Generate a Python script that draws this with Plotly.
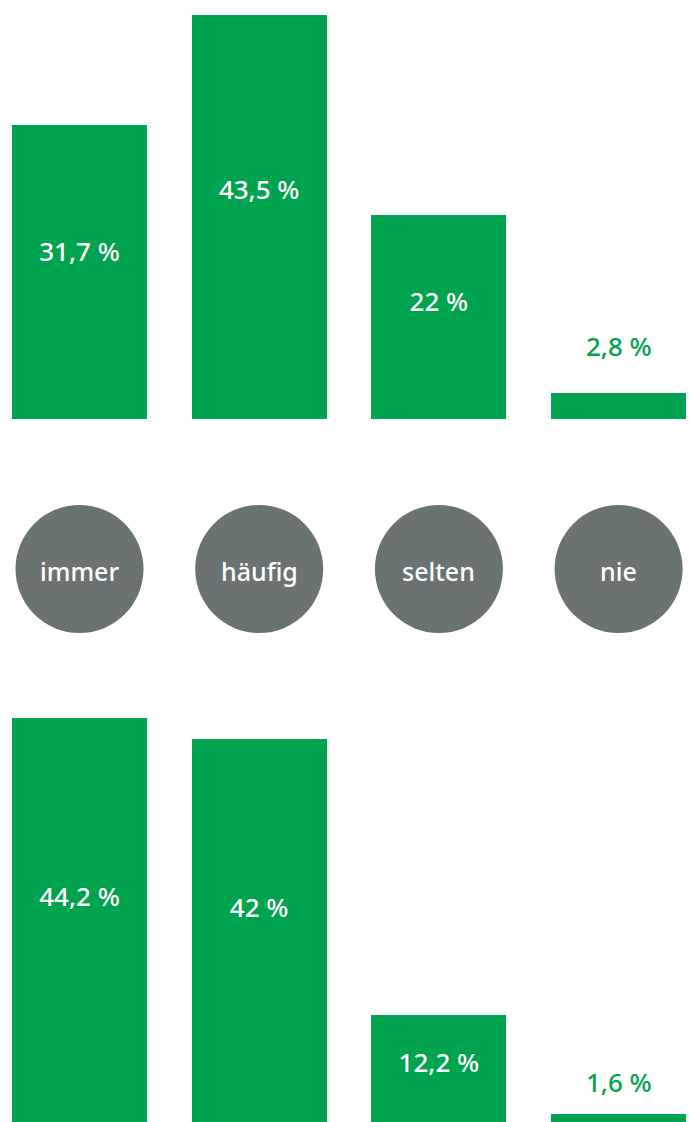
import plotly.graph_objects as go

categories = ["immer", "häufig", "selten", "nie"]
values_top = [31.7, 43.5, 22.0, 2.8]
values_bottom = [44.2, 42.0, 12.2, 1.6]
labels_top = ["31,7 %", "43,5 %", "22 %", "2,8 %"]
labels_bottom = ["44,2 %", "42 %", "12,2 %", "1,6 %"]

GREEN = "#00A34E"
GRAY = "#6A7372"
FONT = "Noto Sans"
WEIGHT = 500
W, H = 689, 1122
SMALL = 5  # values below this get their label above the bar

fig = go.Figure()

def add_bars(vals, labels, yref_name, xref_name):
    fig.add_trace(go.Bar(
        x=categories, y=vals, marker=dict(color=GREEN, line=dict(width=0)),
        width=0.751, xaxis=xref_name, yaxis=yref_name, hoverinfo="skip",
        showlegend=False))
    xs, ys, ts = [], [], []
    for c, v, t in zip(categories, vals, labels):
        if v >= SMALL:
            xs.append(c); ys.append(v * 0.56); ts.append(t)
    fig.add_trace(go.Scatter(
        x=xs, y=ys, text=ts, mode="text", textposition="middle center",
        textfont=dict(family=FONT, size=26, color="white", weight=WEIGHT),
        xaxis=xref_name, yaxis=yref_name, hoverinfo="skip", showlegend=False))

add_bars(values_top, labels_top, "y", "x")
add_bars(values_bottom, labels_bottom, "y2", "x2")

for c, v, t in zip(categories, values_top, labels_top):
    if v < SMALL:
        fig.add_annotation(x=c, y=v, text=t, xref="x", yref="y", showarrow=False,
                           yanchor="bottom", yshift=27,
                           font=dict(family=FONT, size=26, color=GREEN, weight=WEIGHT))
for c, v, t in zip(categories, values_bottom, labels_bottom):
    if v < SMALL:
        fig.add_annotation(x=c, y=v, text=t, xref="x2", yref="y2", showarrow=False,
                           yanchor="bottom", yshift=12,
                           font=dict(family=FONT, size=26, color=GREEN, weight=WEIGHT))

# category circles
fig.add_trace(go.Scatter(
    x=categories, y=[0] * len(categories), mode="markers",
    marker=dict(size=128, color=GRAY, line=dict(width=0)),
    xaxis="x3", yaxis="y3", hoverinfo="skip", showlegend=False))
for c in categories:
    fig.add_annotation(x=c, y=0, text=c, xref="x3", yref="y3", showarrow=False,
                       yshift=-2,
                       font=dict(family=FONT, size=25, color="white", weight=WEIGHT))

xr = [-0.4424, 3.3918]
px_per_unit = 9.29
top_base_px = 419
top_dom0 = (H - top_base_px) / H
bottom_base_below = 7  # baseline lies 7px below the bottom edge
bot_dom1 = 0.4
bot_lo = bottom_base_below / px_per_unit

ax_common = dict(showgrid=False, zeroline=False, showticklabels=False,
                 showline=False, ticks="", fixedrange=True)

fig.update_layout(
    width=W, height=H, margin=dict(l=0, r=0, t=0, b=0),
    paper_bgcolor="white", plot_bgcolor="white",
    bargap=0,
    xaxis=dict(range=xr, domain=[0, 1], anchor="y", **ax_common),
    xaxis2=dict(range=xr, domain=[0, 1], anchor="y2", **ax_common),
    xaxis3=dict(range=xr, domain=[0, 1], anchor="y3", **ax_common),
    yaxis=dict(domain=[top_dom0, 1], range=[0, top_base_px / px_per_unit], anchor="x", **ax_common),
    yaxis2=dict(domain=[0, bot_dom1],
                range=[bot_lo, bot_lo + bot_dom1 * H / px_per_unit],
                anchor="x2", **ax_common),
    yaxis3=dict(domain=[0.40, 0.58574], range=[-1, 1], anchor="x3", **ax_common),
    font=dict(family=FONT),
)

fig.write_html(
    "out.html",
    config={"displayModeBar": False},
    post_script="document.body.style.margin='0';document.body.style.overflow='hidden';",
)
